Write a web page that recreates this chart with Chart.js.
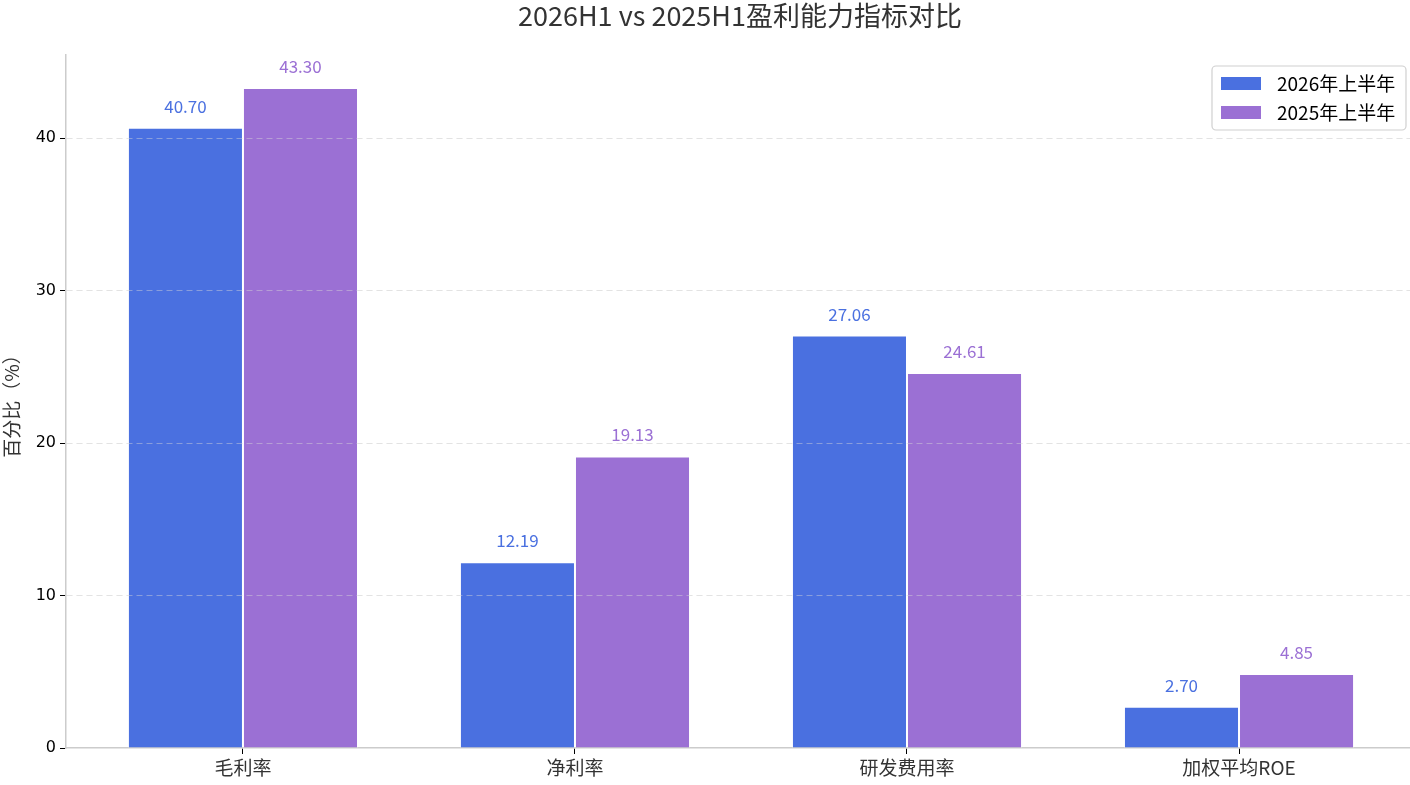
<!DOCTYPE html>
<html>
<head>
<meta charset="utf-8">
<script src="https://cdn.jsdelivr.net/npm/chart.js@4/dist/chart.umd.min.js"></script>
<style>
  html, body { margin: 0; padding: 0; background: #fff; }
  #wrap { width: 1410px; height: 785px; }
</style>
</head>
<body>
<div id="wrap"><canvas id="myChart"></canvas></div>
<script>
// data
const categories = ["毛利率", "净利率", "研发费用率", "加权平均ROE"];
const values2026 = [40.70, 12.19, 27.06, 2.70];
const values2025 = [43.30, 19.13, 24.61, 4.85];
const seriesNames = ["2026年上半年", "2025年上半年"];
const yTicks = [0, 10, 20, 30, 40];
const titleText = "2026H1 vs 2025H1盈利能力指标对比";

const blue = "#4a70e0";
const purple = "#9b70d4";
const cjk = "'Noto Sans CJK SC', 'DejaVu Sans', sans-serif";

// categories sit at 0..n-1 on a linear axis so the side margins match matplotlib
const toPoints = (arr) => arr.map((v, i) => ({ x: i, y: v }));

// grid lines go over the bars like matplotlib's ax.grid, then value labels
const barLabels = {
  id: "barLabels",
  afterDatasetsDraw(chart) {
    const ctx = chart.ctx;
    chart.scales.y.drawGrid(chart.chartArea);
    ctx.save();
    ctx.font = "17px " + cjk;
    ctx.textAlign = "center";
    ctx.textBaseline = "alphabetic";
    chart.data.datasets.forEach((ds, i) => {
      chart.getDatasetMeta(i).data.forEach((bar, j) => {
        ctx.fillStyle = ds.backgroundColor;
        ctx.fillText(ds.data[j].y.toFixed(2), bar.x, bar.y - 15);
      });
    });
    ctx.restore();
  }
};

// title + legend box inside the plot, matplotlib style
const decor = {
  id: "decor",
  afterDraw(chart) {
    const ctx = chart.ctx;
    const area = chart.chartArea;
    ctx.save();
    ctx.fillStyle = "#333";
    ctx.font = "27px " + cjk;
    ctx.textAlign = "center";
    ctx.textBaseline = "middle";
    ctx.fillText(titleText, 740, 16);

    // legend
    const bx = area.right - 198, by = area.top + 11, bw = 194, bh = 64;
    ctx.fillStyle = "rgba(255,255,255,0.85)";
    ctx.strokeStyle = "#d0d0d0";
    ctx.lineWidth = 1.2;
    ctx.beginPath();
    ctx.roundRect(bx, by, bw, bh, 4);
    ctx.fill();
    ctx.stroke();
    ctx.font = "19px " + cjk;
    ctx.textAlign = "left";
    chart.data.datasets.forEach((ds, i) => {
      const cy = by + 17 + i * 29;
      ctx.fillStyle = ds.backgroundColor;
      ctx.fillRect(bx + 9, cy - 6, 40, 13);
      ctx.fillStyle = "#000";
      ctx.fillText(ds.label, bx + 65, cy + 1);
    });
    ctx.restore();
  }
};

const ctx = document.querySelector("#myChart").getContext("2d");

new Chart(ctx, {
  type: "bar",
  data: {
    datasets: [
      {
        label: seriesNames[0],
        data: toPoints(values2026),
        backgroundColor: blue,
        borderColor: "rgba(255,255,255,0.8)",
        borderWidth: 1,
        categoryPercentage: 0.693,
        barPercentage: 1.0,
      },
      {
        label: seriesNames[1],
        data: toPoints(values2025),
        backgroundColor: purple,
        borderColor: "rgba(255,255,255,0.8)",
        borderWidth: 1,
        categoryPercentage: 0.693,
        barPercentage: 1.0,
      },
    ],
  },
  plugins: [barLabels, decor],
  options: {
    responsive: true,
    maintainAspectRatio: false,
    animation: false,
    layout: { padding: { top: 55, right: 0, left: 0, bottom: 0 } },
    plugins: {
      legend: { display: false },
      title: { display: false },
      tooltip: { enabled: false },
    },
    scales: {
      x: {
        type: "linear",
        min: -0.533,
        max: 3.515,
        offset: false,
        afterBuildTicks(scale) {
          scale.ticks = categories.map((c, i) => ({ value: i }));
        },
        grid: {
          display: true,
          offset: false,
          drawOnChartArea: false,
          drawTicks: true,
          tickLength: 6,
          tickColor: "#000",
        },
        border: { color: "#cccccc", width: 1.5 },
        ticks: {
          color: "#333",
          font: { size: 19, family: cjk },
          padding: 2,
          maxRotation: 0,
          callback: (v) => categories[v],
        },
        afterFit(scale) { scale.height = 37; },
      },
      y: {
        min: 0,
        max: 45.465,
        afterBuildTicks(scale) {
          scale.ticks = yTicks.map((v) => ({ value: v }));
        },
        grid: {
          color: (c) => (c.tick && c.tick.value === 0 ? "rgba(0,0,0,0)" : "rgba(215,215,215,0.45)"),
          tickColor: "#000",
          tickLength: 6,
          tickBorderDash: [],
        },
        border: { color: "#cccccc", width: 1.5, dash: [6, 4] },
        ticks: {
          color: "#000",
          font: { size: 16, family: "'DejaVu Sans', sans-serif" },
          padding: 4,
        },
        title: {
          display: true,
          text: "百分比（%）",
          color: "#333",
          font: { size: 19, family: cjk },
          padding: { top: 0, bottom: 0 },
        },
        afterFit(scale) { scale.width = 66; },
      },
    },
  },
});
</script>
</body>
</html>
